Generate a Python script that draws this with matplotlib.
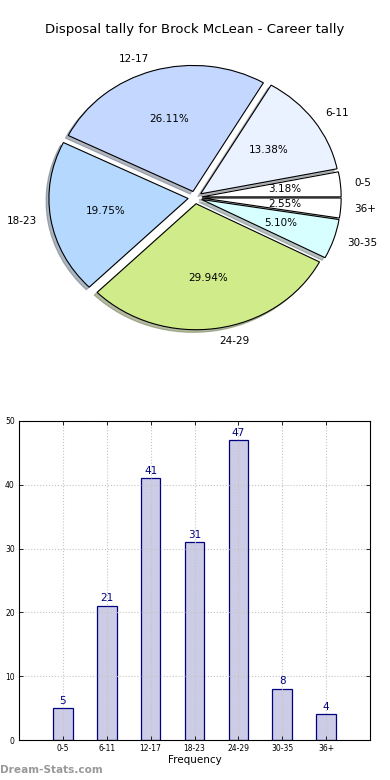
import matplotlib
matplotlib.use("Agg")
import matplotlib.pyplot as plt

categories = ["0-5", "6-11", "12-17", "18-23", "24-29", "30-35", "36+"]
values = [5, 21, 41, 31, 47, 8, 4]
pie_colors = ["#FFFFFF", "#EAF1FF", "#C4D8FF", "#B5D8FF", "#D0EB8A", "#D8FFFF", "#FFFFFF"]
title = "Disposal tally for Brock McLean - Career tally"
yticks = [0, 10, 20, 30, 40, 50]

fig = plt.figure(figsize=(3.9, 7.8), dpi=100)

# Pie
ax1 = fig.add_axes([21/390, 1 - 355/780, 348/390, 315/780])
wedges, texts, autotexts = ax1.pie(
    values, labels=categories, colors=pie_colors, explode=[0.05]*len(values),
    autopct="%1.2f%%", shadow=dict(ox=-0.015, oy=-0.015, shade=0.5), startangle=0,
    wedgeprops=dict(edgecolor="black", linewidth=0.8),
    textprops=dict(fontsize=7.5))
ax1.set_aspect("auto")
ax1.set_xlim(-1.25, 1.25)
ax1.set_ylim(-1.25, 1.25)
fig.text(0.5, 1 - 30/780, title, ha="center", va="center", fontsize=9.5)

# Bars
ax2 = fig.add_axes([19/390, 1 - 740/780, 351/390, 319/780])
x = list(range(len(categories)))
bars = ax2.bar(x, values, width=0.45, color="#CCCCE6", edgecolor="#000080", linewidth=0.9, zorder=2)
for xi, v in zip(x, values):
    ax2.text(xi, v + 0.4, str(v), ha="center", va="bottom", fontsize=7.5, color="#000080")
ax2.set_xlim(-1, 7)
ax2.set_ylim(0, 50)
ax2.set_xticks(x)
ax2.set_xticklabels(categories, fontsize=5.5)
ax2.set_yticks(yticks)
ax2.set_yticklabels([str(t) for t in yticks], fontsize=5.5)
ax2.tick_params(direction="in", top=True, right=True, length=3, width=0.6, pad=3)
ax2.grid(True, linestyle=":", color="#c4c4c4", linewidth=0.8, zorder=3)
ax2.set_axisbelow(False)
ax2.set_xlabel("Frequency", fontsize=7.5, labelpad=1)
for s in ax2.spines.values():
    s.set_linewidth(0.8)
    s.set_zorder(6)

fig.text(0.0, 1 - 770/780, "Dream-Stats.com", ha="left", va="center",
         fontsize=7.6, color="#999999", fontweight="bold")

fig.savefig("out.png", dpi=100)
